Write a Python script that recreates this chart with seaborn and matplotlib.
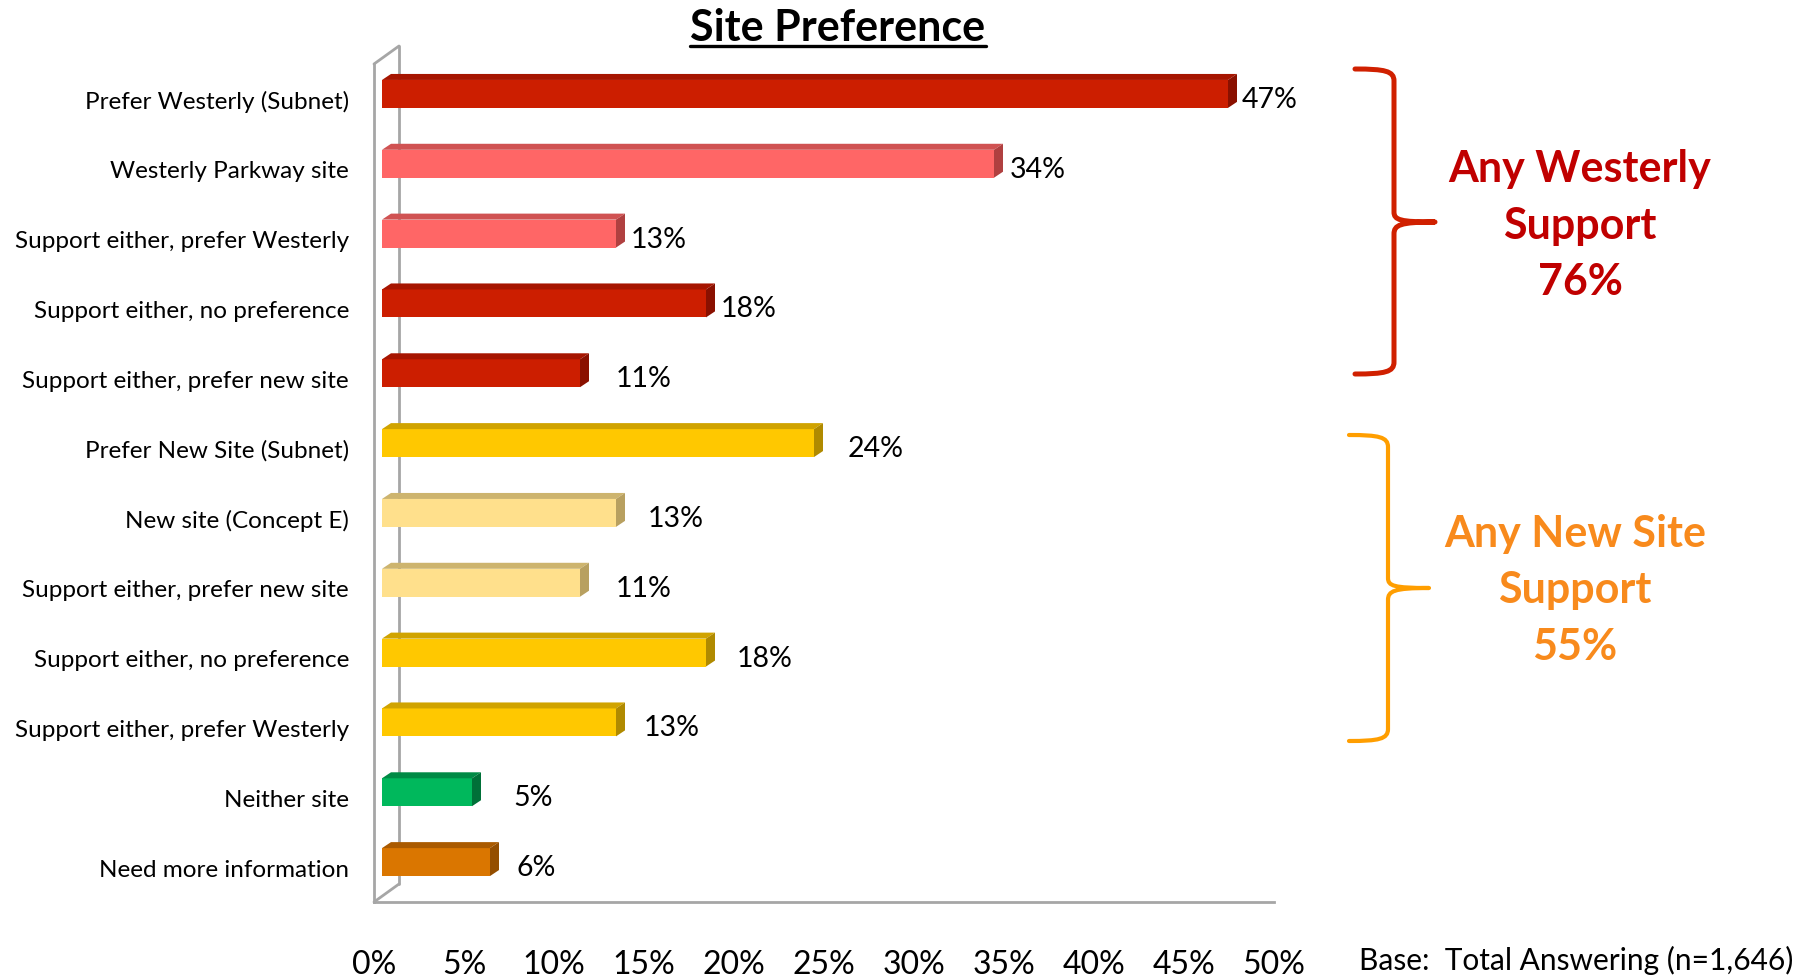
import matplotlib
matplotlib.use("Agg")
import matplotlib.pyplot as plt
import seaborn as sns
import pandas as pd
import numpy as np
from matplotlib.patches import Polygon, PathPatch
from matplotlib.path import Path
from matplotlib.lines import Line2D
from matplotlib.ticker import FuncFormatter

# ---------------- data ----------------
categories = [
    "Prefer Westerly (Subnet)",
    "Westerly Parkway site",
    "Support either, prefer Westerly",
    "Support either, no preference",
    "Support either, prefer new site",
    "Prefer New Site (Subnet)",
    "New site (Concept E)",
    "Support either, prefer new site",
    "Support either, no preference",
    "Support either, prefer Westerly",
    "Neither site",
    "Need more information",
]
values = [47, 34, 13, 18, 11, 24, 13, 11, 18, 13, 5, 6]
x_ticks = [0, 5, 10, 15, 20, 25, 30, 35, 40, 45, 50]
group_labels = ["Any Westerly\nSupport\n76%", "Any New Site\nSupport\n55%"]
title = "Site Preference"
base_note = "Base:  Total Answering (n=1,646)"

# ---------------- styles ----------------
front_colors = ["#CC1E00", "#FF6666", "#FF6666", "#CC1E00", "#CC1E00",
                "#FFC800", "#FFE08C", "#FFE08C", "#FFC800", "#FFC800",
                "#00B85C", "#DA7600"]
top_colors = ["#A61500", "#D05252", "#D05252", "#A61500", "#A61500",
              "#D0A300", "#CDB46E", "#CDB46E", "#D0A300", "#D0A300",
              "#008A45", "#AA5A00"]
side_colors = ["#8A1000", "#B04040", "#B04040", "#8A1000", "#8A1000",
               "#B08A00", "#B8A060", "#B8A060", "#B08A00", "#B08A00",
               "#007038", "#944E00"]
label_pad_px = [14, 16, 15, 15, 36, 34, 32, 36, 31, 28, 41, 27]
GRAY = "#A6A6A6"

W, H = 1815, 979
sns.set_style("white")
plt.rcParams["font.family"] = ["Lato", "DejaVu Sans"]

fig = plt.figure(figsize=(W / 100, H / 100), dpi=100)
ax = fig.add_axes([374 / W, 1 - 903 / H, 900 / W, 838 / H])

rows = [f"r{i}" for i in range(len(categories))]
df = pd.DataFrame({"row": rows, "value": values})
pal = dict(zip(rows, front_colors))
sns.barplot(data=df, x="value", y="row", hue="row", order=rows, hue_order=rows,
            palette=pal, orient="h", width=0.4, saturation=1, legend=False,
            linewidth=0, ax=ax)

ax.set_xlim(0, 50)
ax.set_ylim(len(rows) - 0.5, -0.5)
ax.set_xlabel("")
ax.set_ylabel("")

# spines
for s in ["top", "right"]:
    ax.spines[s].set_visible(False)
for s in ["left", "bottom"]:
    ax.spines[s].set_color(GRAY)
    ax.spines[s].set_linewidth(2)

# ticks
ax.set_xticks(x_ticks)
ax.xaxis.set_major_formatter(FuncFormatter(lambda v, p: f"{v:.0f}%"))
ax.tick_params(axis="x", which="major", direction="out", length=8.6, width=1.5,
               color=GRAY, labelsize=23, pad=25, labelcolor="black")
ax.set_yticks(range(len(rows)))
ax.set_yticklabels(categories)
ax.set_yticks(np.arange(-0.5, len(rows), 1), minor=True)
ax.tick_params(axis="y", which="major", length=0, pad=18, labelsize=17.5,
               labelcolor="black")
ax.tick_params(axis="y", which="minor", direction="out", length=4.3, width=1.5,
               color=GRAY)
ax.grid(False)

inv = ax.transData.inverted()


def to_data(pts):
    return inv.transform(np.asarray(pts, dtype=float))


# 3D bar effect: shift front face, add top & side faces
bar_dx, bar_dy = 8, 5
depth_dx, depth_dy = 9, 6
for p in list(ax.patches):
    yc = p.get_y() + p.get_height() / 2
    i = int(round(yc))
    x0, x1 = p.get_x(), p.get_x() + p.get_width()
    y0, y1 = p.get_y(), p.get_y() + p.get_height()
    d = ax.transData.transform([(x0, y0), (x1, y1)])
    L, R = d[:, 0].min() + bar_dx, d[:, 0].max() + bar_dx
    B, T = d[:, 1].min() + bar_dy, d[:, 1].max() + bar_dy
    front = [(L, B), (R, B), (R, T), (L, T)]
    top = [(L, T), (R, T), (R + depth_dx, T + depth_dy), (L + depth_dx, T + depth_dy)]
    side = [(R, B), (R + depth_dx, B + depth_dy), (R + depth_dx, T + depth_dy), (R, T)]
    p.set_visible(False)
    ax.add_patch(Polygon(to_data(front), closed=True, facecolor=front_colors[i],
                         edgecolor="none", clip_on=False, zorder=3))
    ax.add_patch(Polygon(to_data(top), closed=True, facecolor=top_colors[i],
                         edgecolor="none", clip_on=False, zorder=3))
    ax.add_patch(Polygon(to_data(side), closed=True, facecolor=side_colors[i],
                         edgecolor="none", clip_on=False, zorder=3))
    ax.annotate(f"{values[i]}%", xy=(x1, yc), xytext=(bar_dx + label_pad_px[i], 0),
                textcoords="offset pixels", ha="left", va="center", fontsize=20.5,
                color="black", zorder=4)

# back wall lines
wall_dx, wall_dy = 25, 18
ytop, ybot = -0.5, len(rows) - 0.5
ft = ax.transData.transform([(0, ytop), (0, ybot)])
bk = ft + np.array([wall_dx, wall_dy])
ftd, bkd = to_data(ft), to_data(bk)
for a, b in [(ftd[0], bkd[0]), (ftd[1], bkd[1]), (bkd[0], bkd[1])]:
    ax.add_line(Line2D([a[0], b[0]], [a[1], b[1]], color=GRAY, lw=2,
                       clip_on=False, zorder=2))


# braces (figure-pixel geometry, y measured from top)
def brace(xl, xs, xt, yt, ym, yb, color, lw):
    def P(x, y):
        return (x / W, 1 - y / H)
    verts = [P(xl, yt), P(xl + 30, yt), P(xs, yt + 2), P(xs, yt + 12),
             P(xs, ym - 10),
             P(xs, ym - 2), P(xs + 6, ym), P(xt, ym),
             P(xs + 6, ym), P(xs, ym + 3), P(xs, ym + 12),
             P(xs, yb - 12),
             P(xs, yb - 2), P(xl + 30, yb), P(xl, yb)]
    codes = [Path.MOVETO, Path.CURVE4, Path.CURVE4, Path.CURVE4,
             Path.LINETO,
             Path.CURVE4, Path.CURVE4, Path.CURVE4,
             Path.CURVE4, Path.CURVE4, Path.CURVE4,
             Path.LINETO,
             Path.CURVE4, Path.CURVE4, Path.CURVE4]
    fig.add_artist(PathPatch(Path(verts, codes), transform=fig.transFigure,
                             facecolor="none", edgecolor=color, lw=lw,
                             capstyle="round", joinstyle="round"))


brace(1355, 1394, 1435, 70, 223, 375, "#D02000", 3.6)
brace(1349, 1388, 1429, 436, 589, 742, "#FF9E00", 3.0)

fig.text(1580 / W, 1 - 226 / H, group_labels[0], ha="center", va="center",
         fontsize=31, fontweight="bold", color="#C00000", linespacing=1.5)
fig.text(1575 / W, 1 - 590 / H, group_labels[1], ha="center", va="center",
         fontsize=31, fontweight="bold", color="#F88A1C", linespacing=1.5)

# title with underline
t = fig.text(838 / W, 1 - 41 / H, title, ha="center", va="baseline",
             fontsize=31, fontweight="bold", color="black")
fig.canvas.draw()
bb = t.get_window_extent(renderer=fig.canvas.get_renderer())
uy = 1 - 47 / H
fig.add_artist(Line2D([bb.x0 / W, bb.x1 / W], [uy, uy], color="black", lw=2.4,
                      transform=fig.transFigure))

fig.text(1359 / W, 1 - 960 / H, base_note, ha="left", va="center", fontsize=21.5,
         color="black")

fig.savefig("out.png", dpi=100, facecolor="white")
